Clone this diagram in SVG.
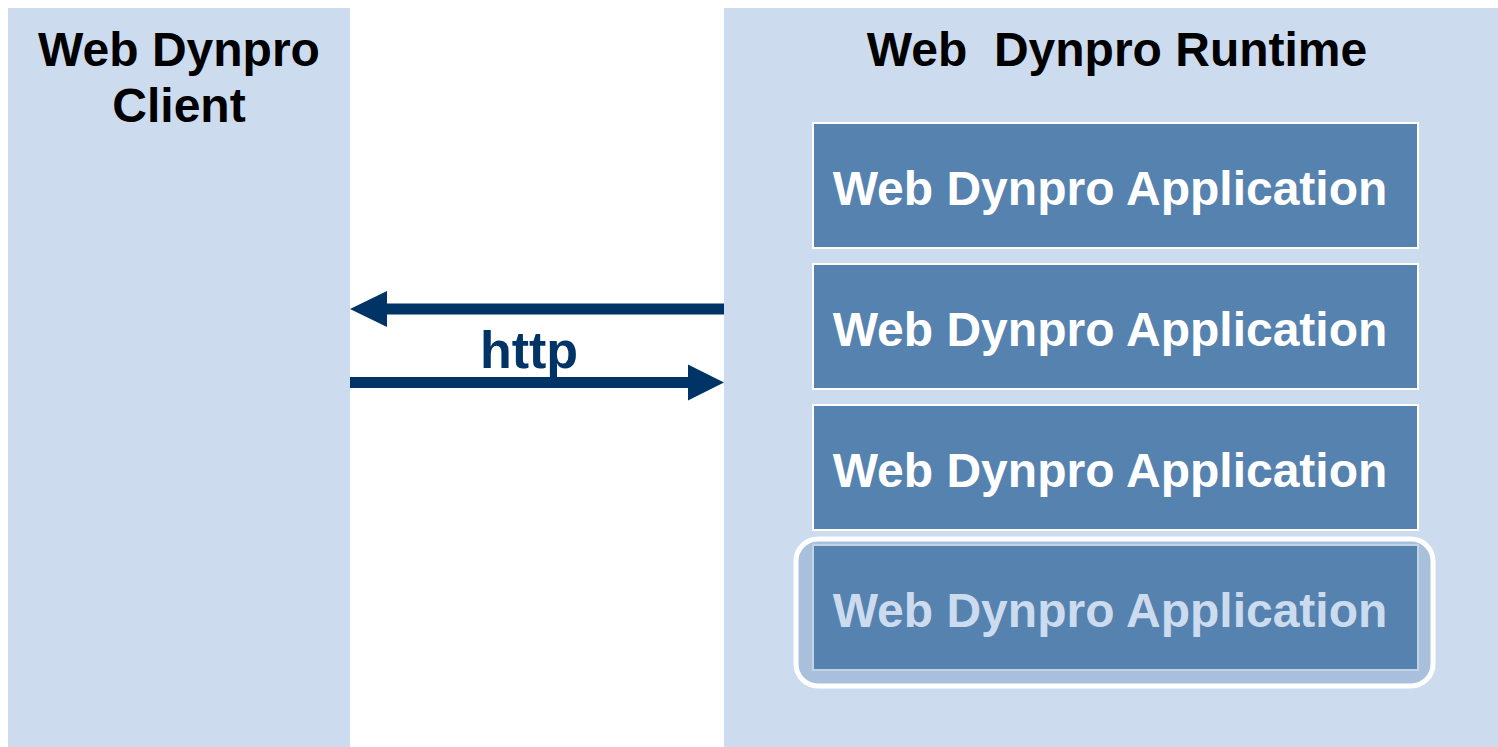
<svg xmlns="http://www.w3.org/2000/svg" width="1498" height="747" viewBox="0 0 1498 747">
<defs>
<style>
.panel{fill:#CCDCEE}
.app{fill:#5682B0;stroke:#FFFFFF;stroke-width:2}
.t{font-family:"Liberation Sans",Arial,sans-serif;font-weight:bold;font-size:48px;text-anchor:middle}
.title{fill:#000000}
.apptxt{fill:#FFFFFF}
.arrow{fill:#003366}
</style>
</defs>
<rect width="1498" height="747" fill="#FFFFFF"/>
<g id="client">
<rect class="panel" x="8" y="8" width="342" height="739"/>
<text class="t title" x="179" y="66">Web Dynpro</text>
<text class="t title" x="179" y="122">Client</text>
</g>
<g id="runtime">
<rect class="panel" x="724" y="8" width="774" height="739"/>
<text class="t title" x="1117" y="66" xml:space="preserve">Web  Dynpro Runtime</text>
</g>
<g id="app1">
<rect class="app" x="813" y="123" width="605" height="125"/>
<text class="t apptxt" x="1110" y="205">Web Dynpro Application</text>
</g>
<g id="app2">
<rect class="app" x="813" y="264" width="605" height="125"/>
<text class="t apptxt" x="1110" y="346">Web Dynpro Application</text>
</g>
<g id="app3">
<rect class="app" x="813" y="405" width="605" height="125"/>
<text class="t apptxt" x="1110" y="487">Web Dynpro Application</text>
</g>
<g id="app4">
<rect x="796" y="539" width="637" height="147" rx="22" fill="#A9C0DC" stroke="#FFFFFF" stroke-width="5"/>
<rect x="813" y="545" width="605" height="125" fill="#5682B0" stroke="#C3D3E6" stroke-width="2"/>
<text class="t" x="1110" y="627" fill="#CCDCEE">Web Dynpro Application</text>
</g>
<g id="connectors">
<rect class="arrow" x="385" y="303.5" width="339" height="11"/>
<polygon class="arrow" points="350,309 387,291 387,327"/>
<rect class="arrow" x="350" y="377" width="340" height="11"/>
<polygon class="arrow" points="724,382.5 688,364.5 688,400.5"/>
<text x="529" y="368" font-family="'Liberation Sans',Arial,sans-serif" font-weight="bold" font-size="52" text-anchor="middle" fill="#003366">http</text>
</g>
</svg>
